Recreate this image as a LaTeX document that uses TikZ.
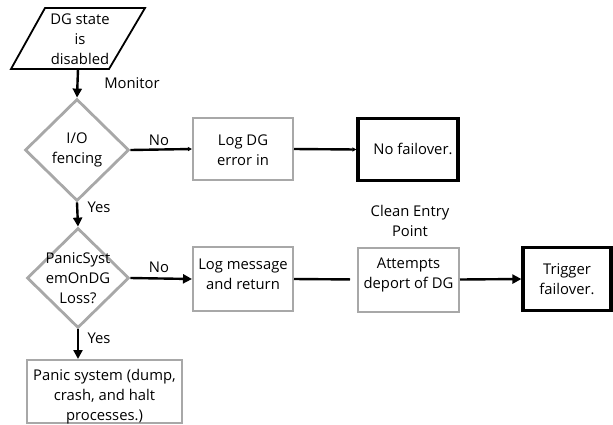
\documentclass[tikz,border=0pt]{standalone}
\usepackage{fontspec}
\setmainfont{Open Sans}
\usetikzlibrary{shapes.geometric,arrows.meta}
\definecolor{edgegray}{HTML}{A8A8A8}
\tikzset{
  txt/.style={font=\fontsize{14.8}{20}\selectfont, align=center, inner sep=0pt},
  graybox/.style={draw=edgegray, line width=2pt, fill=white, inner sep=0pt},
  blackbox/.style={draw=black, line width=3.2pt, fill=white, inner sep=0pt},
  dec/.style={diamond, draw=edgegray, line width=2.8pt, inner sep=0pt},
  conn/.style={line width=2.4pt, draw=black},
  bigtip/.style={conn, -{Triangle[length=9pt,width=9pt]}},
  smalltip/.style={conn, -{Triangle[length=4pt,width=4pt]}},
}
\begin{document}
\begin{tikzpicture}[x=1pt,y=-1pt]
\useasboundingbox (0,0) rectangle (613,424);
% parallelogram
\draw[line width=1.8pt] (45,8) -- (145,8) -- (109,69) -- (11,69) -- cycle;
\node[txt] (para) at (80,39) {DG state\\is\\disabled};
\coordinate (paraB) at (78,69);
% decisions
\node[dec, minimum width=104pt, minimum height=102pt] (d1) at (77,150) {};
\node[txt] (d1t) at (77,150) {I/O\\fencing};
\node[dec, minimum width=102pt, minimum height=100pt] (d2) at (78,278) {};
\node[txt] (d2t) at (78,278) {PanicSyst\\emOnDG\\Loss?};
% boxes
\node[graybox, minimum width=100pt, minimum height=62pt] (b1) at (243,149) {};
\node[txt] (b1t) at (243,150) {Log DG\\error in};
\node[blackbox, minimum width=100pt, minimum height=62pt] (b2) at (408,149.5) {};
\node[txt] (b2t) at (413,149) {No failover.};
\node[graybox, minimum width=100pt, minimum height=64pt] (b3) at (243,279) {};
\node[txt] (b3t) at (243,274.5) {Log message\\and return};
\node[graybox, minimum width=101pt, minimum height=64pt] (b4) at (408.5,279.5) {};
\node[txt] (b4t) at (408.5,275) {Attempts\\deport of DG};
\node[blackbox, minimum width=88pt, minimum height=63pt] (b5) at (567,279) {};
\node[txt] (b5t) at (567,279) {Trigger\\failover.};
\node[graybox, minimum width=155pt, minimum height=63pt] (b6) at (104.5,391.5) {};
\node[txt] (b6t) at (104.5,397) {Panic system (dump,\\crash, and halt\\processes.)};
% labels
\node[txt] (lmon) at (132,83) {Monitor};
\node[txt] (lno1) at (159,140) {No};
\node[txt] (lyes1) at (99,207) {Yes};
\node[txt] (lno2) at (159,267) {No};
\node[txt] (lyes2) at (99,338) {Yes};
\node[txt] (lclean) at (410,221) {Clean Entry\\Point};
% connectors
\draw[bigtip] (paraB) -- (d1.north);
\draw[smalltip] (d1.east) -- (b1.west);
\draw[smalltip] (b1.east) -- (b2.west);
\draw[bigtip] (d1.south) -- (d2.north);
\draw[bigtip] (d2.east) -- (b3.west);
\draw[conn, shorten >=7pt] (b3.east) -- (b4.west);
\draw[bigtip] (b4.east) -- (b5.west);
\draw[bigtip] (d2.south) -- (d2.south |- b6.north);
\end{tikzpicture}
\end{document}
